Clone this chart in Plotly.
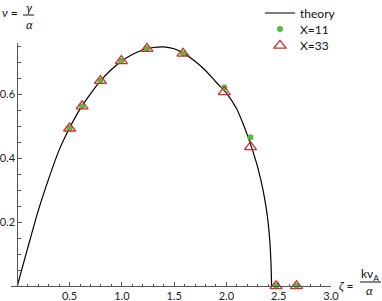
import plotly.graph_objects as go

# ---- data ----
theory_x = [0, 0.1, 0.2, 0.3, 0.4, 0.5, 0.6, 0.7, 0.8, 0.9, 1.0, 1.1, 1.2, 1.3, 1.4,
            1.5, 1.6, 1.7, 1.8, 1.9, 2.0, 2.1, 2.15, 2.2, 2.25, 2.3, 2.35, 2.38, 2.4,
            2.415, 2.425, 2.43, 2.432]
theory_y = [0, 0.119, 0.235, 0.335, 0.425, 0.494, 0.553, 0.601, 0.643, 0.677, 0.704,
            0.724, 0.738, 0.746, 0.748, 0.742, 0.726, 0.703, 0.674, 0.638, 0.603, 0.553,
            0.515, 0.472, 0.424, 0.37, 0.30, 0.245, 0.195, 0.14, 0.08, 0.03, 0.0]

zeta_sim = [0.5, 0.62, 0.795, 0.995, 1.24, 1.585, 1.98, 2.23, 2.475, 2.67]
nu_x11 = [0.493, 0.5625, 0.642, 0.704, 0.742, 0.727, 0.621, 0.465, 0.0, 0.0]
nu_x33 = [0.493, 0.5625, 0.642, 0.704, 0.742, 0.727, 0.607, 0.435, 0.0, 0.0]

x_ticks = [0.5, 1.0, 1.5, 2.0, 2.5, 3.0]
x_ticklabels = ["0.5", "1.0", "1.5", "2.0", "2.5", "3.0"]
y_ticks = [0.2, 0.4, 0.6]
y_ticklabels = ["0.2", "0.4", "0.6"]

# ---- layout geometry (pixels) ----
W, H = 382, 301
L, R, T, B = 11, 51, 43, 15
PW, PH = W - L - R, H - T - B
X0, X1 = -0.06, 3.0
Y0, Y1 = 0.0, 0.76

def px(xp):
    return (xp - L) / PW

def py(yp):
    return (H - B - yp) / PH

FONT = "Lato"
AX = "#555555"
RED = "rgb(208,45,45)"
GREEN = "rgb(85,185,60)"

fig = go.Figure()
fig.add_trace(go.Scatter(x=theory_x, y=theory_y, mode="lines", name="theory",
                         line=dict(color="black", width=1.2, shape="spline", smoothing=0.6),
                         cliponaxis=False, legend="legend", showlegend=True))
fig.add_trace(go.Scatter(x=zeta_sim, y=nu_x11, mode="markers", name="X=11",
                         marker=dict(symbol="circle", size=6, color=GREEN),
                         cliponaxis=False, legend="legend2", showlegend=True))
fig.add_trace(go.Scatter(x=zeta_sim, y=nu_x33, mode="markers", name="X=33",
                         marker=dict(symbol="triangle-up-open", size=10.5, color=RED,
                                     line=dict(width=1.3, color=RED)),
                         cliponaxis=False, legend="legend3", showlegend=True))

leg_common = dict(font=dict(family=FONT, size=12, color="#111111"), bgcolor="rgba(0,0,0,0)",
                  borderwidth=0, xanchor="left", yanchor="middle")
lx = px(260)

fig.update_layout(
    width=W, height=H,
    showlegend=True,
    margin=dict(l=L, r=R, t=T, b=B, autoexpand=False),
    paper_bgcolor="white", plot_bgcolor="white",
    font=dict(family=FONT, size=11, color="#222222"),
    legend=dict(x=lx, y=py(13), **leg_common),
    legend2=dict(x=lx, y=py(29), **leg_common),
    legend3=dict(x=lx, y=py(45.5), **leg_common),
    xaxis=dict(range=[X0, X1], showgrid=False, zeroline=False, showline=True,
               linecolor=AX, linewidth=1, ticks="inside", ticklen=4, tickcolor=AX,
               tickvals=x_ticks, ticktext=x_ticklabels, automargin=False,
               tickfont=dict(family=FONT, size=11, color="#222222"),
               minor=dict(dtick=0.1, tick0=0, ticks="inside", ticklen=2.5, tickcolor=AX),
               anchor="y"),
    yaxis=dict(range=[Y0, Y1], showgrid=False, zeroline=False, showline=True,
               linecolor=AX, linewidth=1, ticks="inside", ticklen=4, tickcolor=AX,
               tickvals=y_ticks, ticktext=y_ticklabels, automargin=False,
               tickfont=dict(family=FONT, size=11, color="#222222"),
               minor=dict(dtick=0.05, tick0=0, ticks="inside", ticklen=2.5, tickcolor=AX),
               anchor="free", position=(0 - X0) / (X1 - X0)),
)

def ann(text, xp, yp, size=12):
    fig.add_annotation(text=text, x=px(xp), y=py(yp), xref="paper", yref="paper",
                       showarrow=False, xanchor="center", yanchor="middle",
                       font=dict(family=FONT, size=size, color="#111111"))

def bar(xa, xb, yp):
    fig.add_shape(type="line", xref="paper", yref="paper", x0=px(xa), x1=px(xb),
                  y0=py(yp), y1=py(yp), line=dict(color="#111111", width=1))

# y-axis label  nu = gamma / alpha
ann("<i>ν</i> =", 10, 13)
ann("<i>γ</i>", 29, 7.5)
bar(23, 34, 15)
ann("<i>α</i>", 29, 25)

# x-axis label  zeta = k v_A / alpha
ann("<i>ζ</i> =", 346, 285)
ann("kv<sub>A</sub>", 370, 274)
bar(360, 381, 282)
ann("<i>α</i>", 369, 290)

fig.write_html("out.html", config={"displayModeBar": False},
               post_script="document.body.style.margin='0px';document.body.style.overflow='hidden';")
